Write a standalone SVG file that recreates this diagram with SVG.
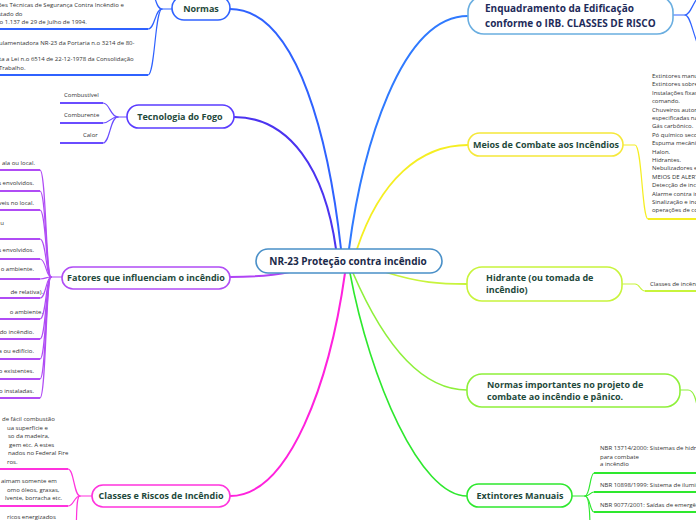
<svg xmlns="http://www.w3.org/2000/svg" width="696" height="520" viewBox="0 0 696 520">
<style>
.bg{fill:#ffffff}
.node{fill:#ffffff;stroke-width:1.6}
.t{font-family:"Open Sans","Noto Sans","Liberation Sans",sans-serif;font-weight:bold;font-size:9px;fill:#1f4a3c}
.tc{font-family:"Open Sans","Noto Sans","Liberation Sans",sans-serif;font-weight:bold;font-size:10px;fill:#1b2a4a}
.te{font-family:"Open Sans","Noto Sans","Liberation Sans",sans-serif;font-weight:bold;font-size:10px;fill:#1e2b5a}
.s{font-family:"Open Sans","Noto Sans","Liberation Sans",sans-serif;font-size:6px;fill:#333333}
.c{fill:none;stroke-linecap:round}
.u{fill:none;stroke-width:2}
.b{stroke-width:1.2}
</style>
<rect class="bg" x="0" y="0" width="696" height="520"/>
<g id="connectors">
  <path class="c" d="M230 9 C300 9 330 150 341 249" stroke="#2f62ff" stroke-width="2"/>
  <path class="c" d="M234 117 C290 117 325 170 336 249" stroke="#4b33f0" stroke-width="2"/>
  <path class="c" d="M349 249 C362 150 400 16 468 16" stroke="#2f7aff" stroke-width="2"/>
  <path class="c" d="M357 249 C380 180 420 145 468 145" stroke="#f5ee22" stroke-width="1.8"/>
  <path class="c" d="M385 272 C420 283 440 284 467 284" stroke="#c8f43c" stroke-width="1.8"/>
  <path class="c" d="M353 273 C382 340 420 390 467 390" stroke="#8ef03a" stroke-width="1.6"/>
  <path class="c" d="M350 273 C370 380 420 496 467 496" stroke="#2ee82e" stroke-width="1.6"/>
  <path class="c" d="M345 273 C330 380 290 496 230 496" stroke="#ff22dd" stroke-width="2"/>
  <path class="c" d="M230 277 C260 277 275 275 290 272" stroke="#b044f5" stroke-width="2"/>
  <g stroke="#2f62ff">
    <path class="c b" d="M172 9 L162 9 C155 9 155 29 148 29"/>
    <path class="c b" d="M162 9 C155 9 155 75 148 75"/>
    <path class="c b" d="M162 9 C155 9 155 -10 150 -12"/>
    <path class="u" d="M0 29 L148 29"/>
    <path class="u" d="M0 75 L148 75"/>
  </g>
  <g stroke="#6a4cff">
    <path class="c b" d="M127 117 L118 117 C110 117 110 103 103 103"/>
    <path class="c b" d="M118 117 C110 117 110 123 103 123"/>
    <path class="c b" d="M118 117 C110 117 110 143 103 143"/>
    <path class="u" d="M60 103 L103 103"/>
    <path class="u" d="M60 123 L103 123"/>
    <path class="u" d="M60 143 L103 143"/>
  </g>
  <g stroke="#b04cf5">
    <path class="c b" d="M62 277 L51 277 C46 277 46 170 40 170"/>
    <path class="c b" d="M51 277 C46 277 46 191 40 191"/>
    <path class="c b" d="M51 277 C46 277 46 210 40 210"/>
    <path class="c b" d="M51 277 C46 277 46 239 40 239"/>
    <path class="c b" d="M51 277 C46 277 46 259 40 259"/>
    <path class="c b" d="M51 277 C46 277 46 279 40 279"/>
    <path class="c b" d="M51 277 C46 277 46 298 40 298"/>
    <path class="c b" d="M51 277 C46 277 46 319 40 319"/>
    <path class="c b" d="M51 277 C46 277 46 339 40 339"/>
    <path class="c b" d="M51 277 C46 277 46 359 40 359"/>
    <path class="c b" d="M51 277 C46 277 46 379 40 379"/>
    <path class="c b" d="M51 277 C46 277 46 398 40 398"/>
    <path class="u" d="M0 170 L40 170"/>
    <path class="u" d="M0 191 L40 191"/>
    <path class="u" d="M0 210 L40 210"/>
    <path class="u" d="M0 239 L40 239"/>
    <path class="u" d="M0 259 L40 259"/>
    <path class="u" d="M0 279 L40 279"/>
    <path class="u" d="M0 298 L40 298"/>
    <path class="u" d="M0 319 L40 319"/>
    <path class="u" d="M0 339 L40 339"/>
    <path class="u" d="M0 359 L40 359"/>
    <path class="u" d="M0 379 L40 379"/>
    <path class="u" d="M0 398 L40 398"/>
  </g>
  <g stroke="#ff33dd">
    <path class="c b" d="M92 496 L80 496 C74 496 74 469 68 469"/>
    <path class="c b" d="M80 496 C74 496 74 506 68 506"/>
    <path class="c b" d="M80 496 C76 496 77 515 76 530"/>
    <path class="u" d="M0 469 L68 469"/>
    <path class="u" d="M0 506 L68 506"/>
  </g>
  <g stroke="#2f62ff">
    <path class="c b" d="M673 15 L685 15 C690 15 692 5 698 -3"/>
    <path class="c b" d="M685 15 C690 15 692 30 698 45"/>
  </g>
  <g stroke="#f5ee22">
    <path class="c b" d="M623 145 L635 145 C642 145 642 219 648 219"/>
    <path class="u" d="M648 219 L696 219"/>
  </g>
  <g stroke="#c8f43c">
    <path class="c b" d="M622 284 L635 284 C640 284 640 291 645 291"/>
    <path class="u" d="M645 291 L696 291"/>
  </g>
  <g stroke="#8ef03a">
    <path class="c b" d="M680 390 L688 390 C694 390 696 400 698 410"/>
  </g>
  <g stroke="#2ee82e">
    <path class="c b" d="M572 496 L585 496 C590 496 590 473 594 473"/>
    <path class="c b" d="M585 496 C590 496 590 492 594 492"/>
    <path class="c b" d="M585 496 C590 496 590 512 594 512"/>
    <path class="c b" d="M585 496 C589 496 590 515 590 530"/>
    <path class="u" d="M594 473 L696 473"/>
    <path class="u" d="M594 492 L696 492"/>
    <path class="u" d="M594 512 L696 512"/>
  </g>
</g>

<g id="central">
  <rect class="node" x="256" y="249" width="186" height="24" rx="12" fill="#f6fbfe" stroke="#4a90c8"/>
  <text class="tc" x="348" y="264.5" text-anchor="middle">NR-23 Proteção contra incêndio</text>
</g>

<g id="normas">
  <rect class="node" x="172" y="-4" width="58" height="24" rx="12" stroke="#2f62ff"/>
  <text class="t" x="201" y="12" text-anchor="middle">Normas</text>
  <text class="s" x="-2" y="7">ões Técnicas de Segurança Contra Incêndio e</text>
  <text class="s" x="-2" y="15.5">stado do</text>
  <text class="s" x="-2" y="24">.o 1.137 de 29 de Julho de 1994.</text>
  <text class="s" x="-1" y="45">ulamentadora NR-23 da Portaria n.o 3214 de 80-</text>
  <text class="s" x="-1" y="61">ta a Lei n.o 6514 de 22-12-1978 da Consolidação</text>
  <text class="s" x="-1" y="69.5">Trabalho.</text>
</g>

<g id="tecnologia">
  <rect class="node" x="127" y="105" width="107" height="23" rx="11.5" stroke="#5a3cff"/>
  <text class="t" x="180" y="120" text-anchor="middle">Tecnologia do Fogo</text>
  <text class="s" x="64" y="97">Combustível</text>
  <text class="s" x="64" y="117">Comburente</text>
  <text class="s" x="83" y="137">Calor</text>
</g>

<g id="fatores">
  <rect class="node" x="62" y="267" width="168" height="22" rx="11" stroke="#b04cf5"/>
  <text class="t" x="146" y="281" text-anchor="middle">Fatores que influenciam o incêndio</text>
  <g class="s" text-anchor="end">
    <text x="35" y="165">ala ou local.</text>
    <text x="34" y="185">s envolvidos.</text>
    <text x="34" y="205">veis no local.</text>
    <text x="4" y="225">u</text>
    <text x="34" y="252">s envolvidos.</text>
    <text x="34" y="271">o ambiente.</text>
    <text x="43" y="294">de relativa).</text>
    <text x="43" y="314">o ambiente.</text>
    <text x="34" y="334">do incêndio.</text>
    <text x="34" y="353">a ou edifício.</text>
    <text x="34" y="373">o existentes.</text>
    <text x="34" y="393">o instaladas.</text>
  </g>
</g>

<g id="classes">
  <rect class="node" x="92" y="485" width="138" height="22" rx="11" stroke="#ff33dd"/>
  <text class="t" x="161" y="499" text-anchor="middle">Classes e Riscos de Incêndio</text>
  <text class="s" x="2" y="421">de fácil combustão</text>
  <text class="s" x="7" y="429.5">ua superfície e</text>
  <text class="s" x="8" y="438">so da madeira,</text>
  <text class="s" x="9" y="446.5">gem etc. A estes</text>
  <text class="s" x="8" y="455">nados no Federal Fire</text>
  <text class="s" x="7" y="463.5">ros.</text>
  <text class="s" x="1" y="483">aimam somente em</text>
  <text class="s" x="7" y="491.5">omo óleos, graxas,</text>
  <text class="s" x="5" y="500">lvente, borracha etc.</text>
  <text class="s" x="7" y="519">ricos energizados</text>
</g>

<g id="enquadramento">
  <rect class="node" x="468" y="-4" width="205" height="38" rx="16" stroke="#6aaee0"/>
  <text class="te" x="485" y="12">Enquadramento da Edificação</text>
  <text class="te" x="485" y="27">conforme o IRB. CLASSES DE RISCO</text>
</g>

<g id="meios">
  <rect class="node" x="468" y="133" width="155" height="23" rx="11.5" stroke="#f5e83a"/>
  <text class="t" x="546" y="148" text-anchor="middle">Meios de Combate aos Incêndios</text>
  <g class="s">
    <text x="652" y="78">Extintores manuais.</text>
    <text x="652" y="86.4">Extintores sobre rodas.</text>
    <text x="652" y="94.8">Instalações fixas</text>
    <text x="652" y="103.2">comando.</text>
    <text x="652" y="111.6">Chuveiros automáticos</text>
    <text x="652" y="120">especificadas na</text>
    <text x="652" y="128.4">Gás carbônico.</text>
    <text x="652" y="136.8">Pó químico seco.</text>
    <text x="652" y="145.2">Espuma mecânica.</text>
    <text x="652" y="153.6">Halon.</text>
    <text x="652" y="162">Hidrantes.</text>
    <text x="652" y="170.4">Nebulizadores e</text>
    <text x="652" y="178.8">MEIOS DE ALERTA</text>
    <text x="652" y="187.2">Detecção de incêndio</text>
    <text x="652" y="195.6">Alarme contra incêndio</text>
    <text x="652" y="204">Sinalização e indicação</text>
    <text x="652" y="212.4">operações de combate</text>
  </g>
</g>

<g id="hidrante">
  <rect class="node" x="467" y="267" width="155" height="34" rx="15" stroke="#c8f43c"/>
  <text class="t" x="486" y="281">Hidrante (ou tomada de</text>
  <text class="t" x="486" y="293">incêndio)</text>
  <text class="s" x="650" y="286">Classes de incêndio</text>
</g>

<g id="normas-importantes">
  <rect class="node" x="467" y="374" width="213" height="33" rx="15" stroke="#8ef03a"/>
  <text class="t" x="487" y="388">Normas importantes no projeto de</text>
  <text class="t" x="487" y="400">combate ao incêndio e pânico.</text>
</g>

<g id="extintores">
  <rect class="node" x="467" y="484" width="105" height="23" rx="11.5" stroke="#2ee82e"/>
  <text class="t" x="520" y="499" text-anchor="middle">Extintores Manuais</text>
  <text class="s" x="600" y="450">NBR 13714/2000: Sistemas de hidrantes</text>
  <text class="s" x="600" y="458.5">para combate</text>
  <text class="s" x="600" y="466">a incêndio</text>
  <text class="s" x="600" y="487">NBR 10898/1999: Sistema de iluminação</text>
  <text class="s" x="600" y="507">NBR 9077/2001: Saídas de emergência</text>
</g>
</svg>
